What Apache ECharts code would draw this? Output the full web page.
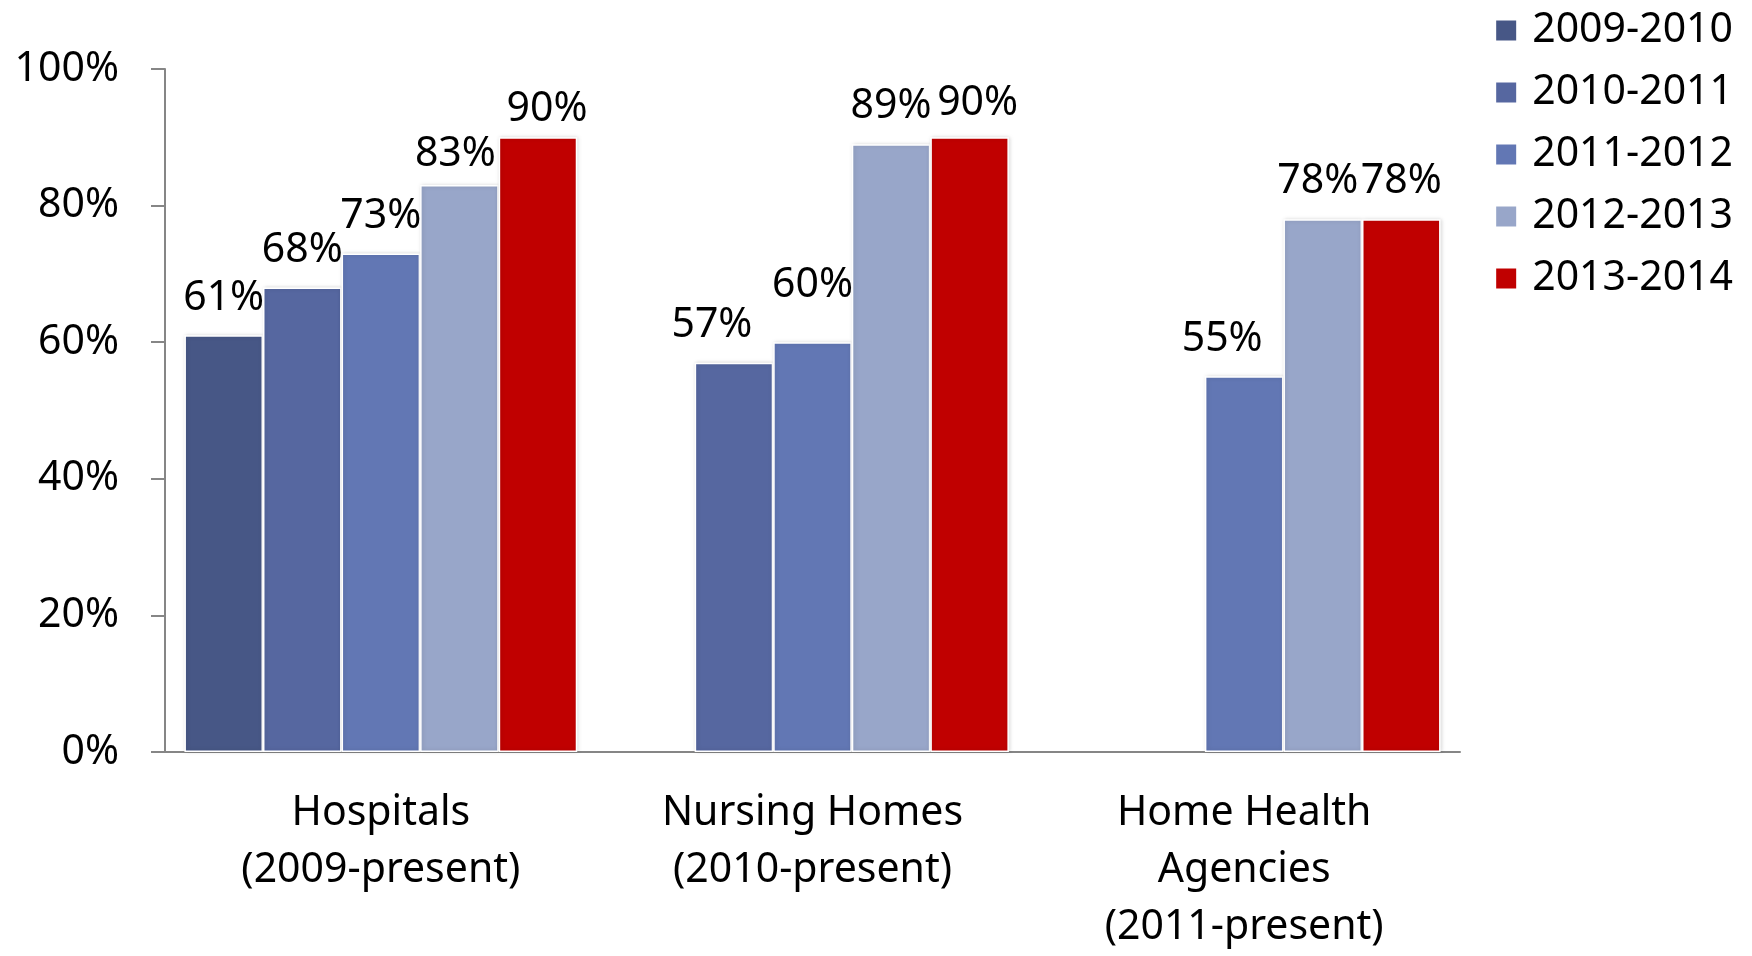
<!DOCTYPE html>
<html>
<head>
<meta charset="utf-8">
<script src="https://cdn.jsdelivr.net/npm/echarts@6/dist/echarts.min.js"></script>
<style>
  html, body { margin: 0; padding: 0; background: #fff; }
  #chart { width: 1752px; height: 956px; }
</style>
</head>
<body>
<div id="chart"></div>
<script>
const categories = ['Hospitals\n(2009-present)', 'Nursing Homes\n(2010-present)', 'Home Health\nAgencies\n(2011-present)']
const seriesNames = ['2009-2010', '2010-2011', '2011-2012', '2012-2013', '2013-2014']
const colors = ['#475786', '#5667A0', '#6277B4', '#98A6C9', '#C00000']
// null = no data for that year in the category
const values = [
  [61, null, null],
  [68, 57, null],
  [73, 60, 55],
  [83, 89, 78],
  [90, 90, 78]
]
const yTicks = [0, 20, 40, 60, 80, 100]

// small nudges so the value labels sit like in the original slide
const labelNudge = {
  '1-1': [-22, 0],
  '2-1': [0, -19],
  '2-2': [-22, 0],
  '3-0': [-4, 7],
  '3-2': [-5, 0],
  '4-0': [9, 10],
  '4-1': [8, 4]
}

const font = 'Noto Sans'
const chart = echarts.init(document.getElementById('chart'))

const option = {
  animation: false,
  textStyle: { fontFamily: font },
  grid: { left: 165, right: 292, top: 69, bottom: 201 },
  legend: {
    orient: 'vertical',
    right: 14,
    top: 5,
    icon: 'rect',
    itemWidth: 22,
    itemHeight: 22,
    itemGap: 21,
    data: seriesNames,
    textStyle: { fontSize: 41, color: '#000', fontFamily: font, padding: [0, 0, 0, 10], lineHeight: 41 }
  },
  xAxis: {
    type: 'category',
    data: categories,
    axisLine: { lineStyle: { color: '#868686', width: 2 } },
    axisTick: { length: 14, lineStyle: { color: '#868686', width: 2 } },
    axisLabel: { fontSize: 41, color: '#000', lineHeight: 57, margin: 33, fontFamily: font }
  },
  yAxis: {
    type: 'value',
    min: 0,
    max: 100,
    interval: 20,
    splitLine: { show: false },
    axisLine: { show: true, lineStyle: { color: '#868686', width: 2 } },
    axisTick: { show: true, length: 14, lineStyle: { color: '#868686', width: 2 } },
    axisLabel: {
      fontSize: 41, color: '#000', margin: 46, fontFamily: font,
      formatter: v => yTicks.includes(v) ? v + '%' : ''
    }
  },
  series: seriesNames.map((name, i) => ({
    name,
    type: 'bar',
    data: values[i].map((v, j) => {
      const nudge = labelNudge[i + '-' + j]
      return nudge ? { value: v, label: { offset: nudge } } : v
    }),
    barGap: 0,
    barCategoryGap: '9%',
    itemStyle: {
      color: colors[i],
      borderColor: '#fff',
      borderWidth: 1.5,
      shadowColor: 'rgba(0,0,0,0.15)',
      shadowBlur: 4,
      shadowOffsetX: 1
    },
    label: {
      show: true,
      position: 'top',
      distance: 17,
      fontSize: 41,
      color: '#000',
      fontFamily: font,
      formatter: p => p.value + '%'
    }
  }))
}

chart.setOption(option)
</script>
</body>
</html>
